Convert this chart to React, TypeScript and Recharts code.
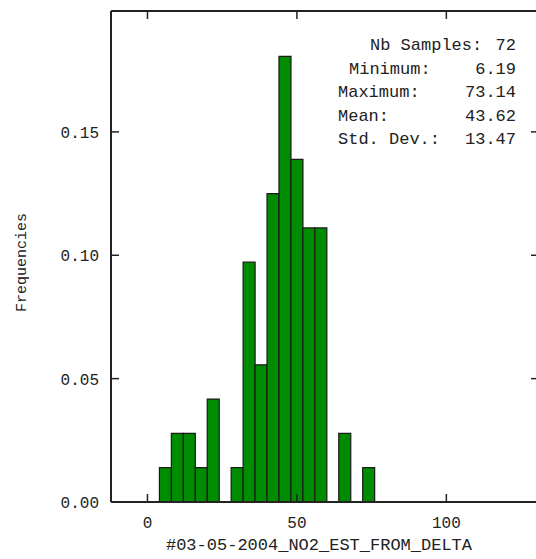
import React from 'react';
import { ComposedChart, Bar, XAxis, YAxis, ReferenceLine } from 'recharts';

// histogram bins (width 4), centre of each bin
const binCenters = [6, 10, 14, 18, 22, 26, 30, 34, 38, 42, 46, 50, 54, 58, 62, 66, 70, 74];
// relative frequency per bin (count / 72)
const frequencies = [
  0.0139, 0.0278, 0.0278, 0.0139, 0.0417, 0, 0.0139, 0.0972, 0.0556, 0.125, 0.1806, 0.1389,
  0.1111, 0.1111, 0, 0.0278, 0, 0.0139,
];

const xTicks = [0, 50, 100];
const yTicks = [0, 0.05, 0.1, 0.15];

const statLabels = ['Nb Samples:', 'Minimum:', 'Maximum:', 'Mean:', 'Std. Dev.:'];
const statValues = ['72', '6.19', '73.14', '43.62', '13.47'];

const data = binCenters.map((mid, i) => ({ mid, freq: frequencies[i] }));

const FONT = '"Liberation Mono", "DejaVu Sans Mono", monospace';
const INK = '#222';
const X_DOMAIN: [number, number] = [-12.2, 131];
const Y_DOMAIN: [number, number] = [0, 0.199];

const CHART_W = 560;
const CHART_H = 559;
const MARGIN = { top: 11, right: 21, bottom: 0, left: 0 };
const Y_AXIS_W = 111;
const X_AXIS_H = 57;
const PLOT_W = CHART_W - MARGIN.left - MARGIN.right - Y_AXIS_W;
const PLOT_H = CHART_H - MARGIN.top - MARGIN.bottom - X_AXIS_H;

// inward tick length (8px) expressed in data units of each axis
const TICK_PX = 8;
const xTickLen = (TICK_PX * (X_DOMAIN[1] - X_DOMAIN[0])) / PLOT_W;
const yTickLen = (TICK_PX * (Y_DOMAIN[1] - Y_DOMAIN[0])) / PLOT_H;

const BottomTick = (props: any) => {
  const { x, y, payload } = props;
  return (
    <text x={x} y={y + 12} textAnchor="middle" fontFamily={FONT} fontSize={16} fill={INK}>
      {payload.value}
    </text>
  );
};

const LeftTick = (props: any) => {
  const { x, y, payload } = props;
  return (
    <text x={x} y={y + 6} textAnchor="end" fontFamily={FONT} fontSize={16} fill={INK}>
      {Number(payload.value).toFixed(2)}
    </text>
  );
};

const YTitle = (props: any) => {
  const { viewBox } = props;
  const cx = viewBox.x + 22;
  const cy = viewBox.y + viewBox.height / 2 + 6;
  return (
    <text
      x={cx}
      y={cy}
      transform={`rotate(-90 ${cx} ${cy})`}
      textAnchor="middle"
      dominantBaseline="central"
      fontFamily={FONT}
      fontSize={15}
      fill={INK}
    >
      Frequencies
    </text>
  );
};

const frameStroke = { stroke: INK, strokeWidth: 2 };

export default function App() {
  return (
    <div
      style={{
        position: 'absolute',
        left: 0,
        top: 0,
        width: 536,
        height: 559,
        overflow: 'hidden',
        background: '#fff',
      }}
    >
      <ComposedChart
        width={CHART_W}
        height={CHART_H}
        data={data}
        margin={MARGIN}
        barCategoryGap={0}
        barGap={0}
      >
        <XAxis
          dataKey="mid"
          type="number"
          domain={X_DOMAIN}
          ticks={xTicks}
          height={X_AXIS_H}
          tickSize={0}
          tickMargin={14}
          tickLine={false}
          tick={<BottomTick />}
          axisLine={frameStroke}
          allowDataOverflow
          label={{
            value: '#03-05-2004_NO2_EST_FROM_DELTA',
            position: 'insideBottom',
            offset: 9,
            dx: -6,
            fontFamily: FONT,
            fontSize: 17,
            fill: INK,
          }}
        />
        <YAxis
          type="number"
          domain={Y_DOMAIN}
          ticks={yTicks}
          width={Y_AXIS_W}
          tickSize={0}
          tickMargin={12}
          tickLine={false}
          tick={<LeftTick />}
          axisLine={frameStroke}
          allowDataOverflow
          label={<YTitle />}
        />
        {/* top and right frame */}
        <ReferenceLine y={Y_DOMAIN[1]} stroke={INK} strokeWidth={2} ifOverflow="visible" />
        <ReferenceLine x={X_DOMAIN[1]} stroke={INK} strokeWidth={2} ifOverflow="visible" />
        {/* inward tick marks on all four sides */}
        {xTicks.map((t) => (
          <ReferenceLine
            key={`xb${t}`}
            segment={[{ x: t, y: 0 }, { x: t, y: yTickLen }]}
            stroke={INK}
            strokeWidth={1.5}
            ifOverflow="visible"
          />
        ))}
        {xTicks.map((t) => (
          <ReferenceLine
            key={`xt${t}`}
            segment={[{ x: t, y: Y_DOMAIN[1] }, { x: t, y: Y_DOMAIN[1] - yTickLen }]}
            stroke={INK}
            strokeWidth={1.5}
            ifOverflow="visible"
          />
        ))}
        {yTicks.slice(1).map((t) => (
          <ReferenceLine
            key={`yl${t}`}
            segment={[{ x: X_DOMAIN[0], y: t }, { x: X_DOMAIN[0] + xTickLen, y: t }]}
            stroke={INK}
            strokeWidth={1.5}
            ifOverflow="visible"
          />
        ))}
        {yTicks.slice(1).map((t) => (
          <ReferenceLine
            key={`yr${t}`}
            segment={[{ x: X_DOMAIN[1], y: t }, { x: X_DOMAIN[1] - xTickLen, y: t }]}
            stroke={INK}
            strokeWidth={1.5}
            ifOverflow="visible"
          />
        ))}
        <Bar
          dataKey="freq"
          fill="#008c00"
          stroke="#1a1a1a"
          strokeWidth={1.2}
          isAnimationActive={false}
        />
      </ComposedChart>
      <div
        style={{
          position: 'absolute',
          left: 330,
          top: 34,
          width: 186,
          fontFamily: FONT,
          fontSize: 17,
          color: INK,
          lineHeight: '23.5px',
        }}
      >
        {statLabels.map((label, i) => (
          <div key={label} style={{ display: 'flex', justifyContent: 'space-between' }}>
            <span style={{ paddingLeft: i === 0 ? 40 : i === 1 ? 19 : 8 }}>{label}</span>
            <span>{statValues[i]}</span>
          </div>
        ))}
      </div>
    </div>
  );
}
